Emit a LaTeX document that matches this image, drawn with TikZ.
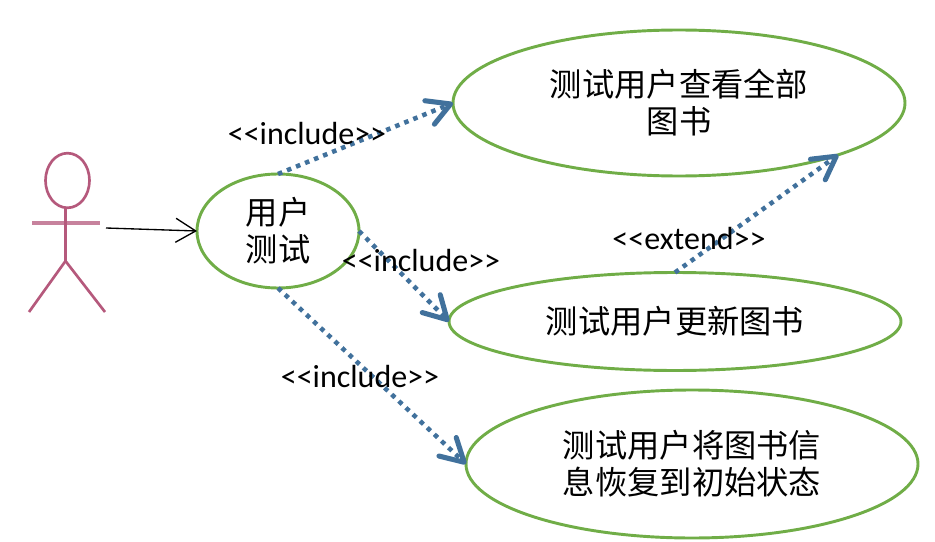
\documentclass[tikz,border=0pt]{standalone}
\usepackage{fontspec}
\setmainfont{Carlito}
\newfontfamily\cjk{Noto Sans CJK SC}
\usetikzlibrary{arrows.meta,shapes.geometric}
\definecolor{usegreen}{HTML}{70AD47}
\definecolor{depblue}{HTML}{41719C}
\definecolor{actorred}{HTML}{B5597C}
\tikzset{
  usecase/.style={ellipse,draw=usegreen,line width=2.2pt,inner sep=0pt,outer sep=0pt,align=center,
    font=\cjk\fontsize{24.2}{27.75}\selectfont},
  dep/.style={draw=depblue,line width=3.4pt,dash pattern=on 3.4pt off 3.9pt,
    -{Straight Barb[length=17pt,width=19pt,line width=3.8pt,round]}},
  deplabel/.style={inner sep=0pt,font=\fontsize{24}{28}\selectfont},
  actorline/.style={draw=actorred,line width=2pt}
}
\begin{document}
\begin{tikzpicture}[x=0.75pt,y=-0.75pt]
\useasboundingbox (0,0) rectangle (935,542);
% actor
\node[actorline,ellipse,inner sep=0pt,outer sep=0pt,minimum width=33pt,minimum height=41pt] (head) at (67.5,180.5) {};
\coordinate (armL) at (32,223);
\coordinate (armR) at (100,223);
\coordinate (hip) at (65.5,261);
\coordinate (footL) at (29,312);
\coordinate (footR) at (105,312);
\coordinate (assocStart) at (106,228);
\draw[draw=actorred!75,line width=3.4pt] (armL) -- (armR);
\draw[actorline] (head.south) ++(-2,0) -- (hip) -- (footL);
\draw[actorline] (hip) -- (footR);
% use cases
\node[usecase,minimum width=121.5pt,minimum height=85.5pt] (e0) at (278,231) {用户\\测试};
\node[usecase,minimum width=339pt,minimum height=109.5pt] (e1) at (679,103) {测试用户查看全部\\图书};
\node[usecase,minimum width=339pt,minimum height=73.5pt] (e2) at (675,321.5) {测试用户更新图书};
\node[usecase,minimum width=339pt,minimum height=111pt] (e3) at (692,464) {测试用户将图书信\\息恢复到初始状态};
% connectors
\draw[black,line width=1pt,-{Straight Barb[length=15pt,width=18pt,line width=1pt]}] (assocStart) -- (e0.west);
\draw[dep] (e0.north) -- (e1.west);
\draw[dep] (e0.east) -- (e2.west);
\draw[dep] (e0.south) -- (e3.west);
\draw[dep] (e2.north) -- (e1.-18.7);
% labels
\node[deplabel] (l1) at (307,134) {<{}<include>{}>};
\node[deplabel] (l2) at (421,261) {<{}<include>{}>};
\node[deplabel] (l3) at (360,377) {<{}<include>{}>};
\node[deplabel] (l4) at (689,239) {<{}<extend>{}>};
\end{tikzpicture}
\end{document}
